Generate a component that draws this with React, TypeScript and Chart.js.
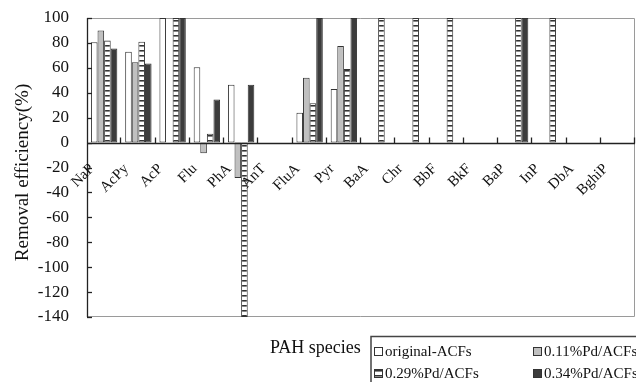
import { useEffect, useRef } from 'react';
import { Chart, registerables } from 'chart.js';
Chart.register(...registerables);

const categories = ['NaP', 'AcPy', 'AcP', 'Flu', 'PhA', 'AnT', 'FluA', 'Pyr', 'BaA', 'Chr', 'BbF', 'BkF', 'BaP', 'InP', 'DbA', 'BghiP'];
const seriesNames = ['original-ACFs', '0.11%Pd/ACFs', '0.29%Pd/ACFs', '0.34%Pd/ACFs'];
const originalACFs = [80.5, 73, 100, 60.5, 46.5, null, 24, 43, null, null, null, null, null, null, null, null];
const pd011 = [90, 64.5, null, -8.5, -28.5, null, 52, 77.5, null, null, null, null, null, null, null, null];
const pd029 = [82, 81, 100, 7, -140, null, 31.5, 59, 100, 100, 100, null, 100, 100, null, null];
const pd034 = [75.5, 63.5, 100, 34.5, 46.5, null, 100, 100, null, null, null, null, 100, null, null, null];
const yMin = -140;
const yMax = 100;
const yStep = 20;
const yTitle = 'Removal efficiency(%)';
const xTitle = 'PAH species';

const SERIF = '"Liberation Serif", "Times New Roman", serif';

function makeHatch(): CanvasPattern | string {
  const c = document.createElement('canvas');
  c.width = 4;
  c.height = 5;
  const g = c.getContext('2d');
  if (!g) return '#ffffff';
  g.fillStyle = '#ffffff';
  g.fillRect(0, 0, 4, 5);
  g.fillStyle = '#333333';
  g.fillRect(0, 0, 4, 1);
  g.fillStyle = '#8a8a8a';
  g.fillRect(0, 1, 4, 1);
  const ctx = document.createElement('canvas').getContext('2d');
  return (ctx && ctx.createPattern(c, 'repeat')) || '#ffffff';
}

export default function App() {
  const ref = useRef<HTMLCanvasElement>(null);
  useEffect(() => {
    document.body.style.margin = '0';
    const canvas = ref.current;
    if (!canvas) return;
    const hatch = makeHatch();
    const fills: any[] = ['#ffffff', '#c0c0c0', hatch, '#3c3c3c'];
    const values = [originalACFs, pd011, pd029, pd034];

    const decor = {
      id: 'decor',
      beforeDatasetsDraw(chart: any) {
        const { ctx, chartArea: a } = chart;
        ctx.save();
        ctx.strokeStyle = '#9a9a9a';
        ctx.lineWidth = 1;
        ctx.beginPath();
        ctx.moveTo(a.left, a.top + 0.5);
        ctx.lineTo(a.right - 0.5, a.top + 0.5);
        ctx.lineTo(a.right - 0.5, a.bottom - 0.5);
        ctx.lineTo(a.left, a.bottom - 0.5);
        ctx.stroke();
        ctx.restore();
      },
      afterDatasetsDraw(chart: any) {
        const { ctx, chartArea: a, scales } = chart;
        const y = scales.y;
        const x = scales.x;
        ctx.save();
        ctx.strokeStyle = '#222222';
        ctx.lineWidth = 1.3;
        ctx.beginPath();
        ctx.moveTo(a.left + 0.5, a.top);
        ctx.lineTo(a.left + 0.5, a.bottom);
        ctx.stroke();
        for (let v = yMin; v <= yMax; v += yStep) {
          const py = Math.round(y.getPixelForValue(v)) + 0.5;
          ctx.beginPath();
          ctx.moveTo(a.left, py);
          ctx.lineTo(a.left + 5, py);
          ctx.stroke();
        }
        const zy = Math.round(y.getPixelForValue(0)) + 0.5;
        ctx.beginPath();
        ctx.moveTo(a.left, zy);
        ctx.lineTo(a.right, zy);
        ctx.stroke();
        const half = (x.getPixelForValue(1) - x.getPixelForValue(0)) / 2;
        for (let i = 0; i < categories.length; i++) {
          const bx = Math.round(x.getPixelForValue(i) + half) - 0.5;
          ctx.beginPath();
          ctx.moveTo(bx, zy);
          ctx.lineTo(bx, zy - 6);
          ctx.stroke();
        }
        ctx.fillStyle = '#111111';
        ctx.font = `15px ${SERIF}`;
        ctx.textAlign = 'right';
        ctx.textBaseline = 'middle';
        for (let i = 0; i < categories.length; i++) {
          const cx = x.getPixelForValue(i);
          ctx.save();
          ctx.translate(cx - 12, zy + 23);
          ctx.rotate(-Math.PI / 4);
          ctx.fillText(categories[i], 0, 0);
          ctx.restore();
        }
        ctx.save();
        ctx.font = `19px ${SERIF}`;
        ctx.textAlign = 'center';
        ctx.textBaseline = 'middle';
        ctx.translate(23, (a.top + a.bottom) / 2 + 5);
        ctx.rotate(-Math.PI / 2);
        ctx.fillText(yTitle, 0, 0);
        ctx.restore();
        ctx.font = `18px ${SERIF}`;
        ctx.textAlign = 'left';
        ctx.textBaseline = 'alphabetic';
        ctx.fillText(xTitle, 270, 353);
        ctx.strokeStyle = '#444444';
        ctx.lineWidth = 1.5;
        ctx.strokeRect(371, 336.5, 280, 60);
        const pos = [
          [374, 351],
          [533, 351],
          [374, 373],
          [533, 373],
        ];
        ctx.font = `15px ${SERIF}`;
        ctx.textBaseline = 'middle';
        ctx.lineWidth = 1;
        for (let k = 0; k < seriesNames.length; k++) {
          const [lx, ly] = pos[k];
          ctx.fillStyle = fills[k];
          ctx.fillRect(lx, ly - 4, 8, 8);
          ctx.strokeStyle = '#333333';
          ctx.strokeRect(lx + 0.5, ly - 3.5, 8, 8);
          ctx.fillStyle = '#111111';
          ctx.fillText(seriesNames[k], lx + 11, ly + 1);
        }
        ctx.restore();
      },
    };

    const chart = new Chart(canvas, {
      type: 'bar',
      data: {
        labels: categories,
        datasets: seriesNames.map((name, k) => ({
          label: name,
          data: values[k] as any,
          backgroundColor: fills[k],
          borderColor: '#333333',
          borderWidth: 1,
          borderSkipped: false,
          categoryPercentage: 0.77,
          barPercentage: 1,
        })),
      },
      options: {
        responsive: false,
        animation: false,
        devicePixelRatio: 1,
        layout: { padding: { left: 0, top: 18, right: 1, bottom: 65 } },
        plugins: { legend: { display: false }, tooltip: { enabled: false } },
        scales: {
          x: { display: false },
          y: {
            min: yMin,
            max: yMax,
            grid: { display: false, drawTicks: false },
            border: { display: false },
            afterFit: (s: any) => {
              s.width = 87;
              s.paddingTop = 0;
              s.paddingBottom = 0;
            },
            ticks: {
              stepSize: yStep,
              padding: 18,
              color: '#111111',
              font: { family: SERIF, size: 17 },
            },
          },
        },
      },
      plugins: [decor],
    } as any);
    return () => chart.destroy();
  }, []);
  return (
    <div style={{ width: 636, height: 382 }}>
      <canvas ref={ref} width={636} height={382} />
    </div>
  );
}
